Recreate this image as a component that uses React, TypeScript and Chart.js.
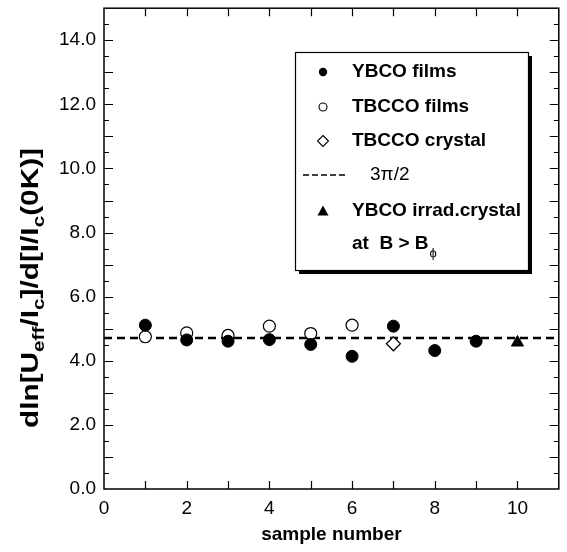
import React, { useEffect, useRef } from 'react';
import { Chart, registerables } from 'chart.js';

Chart.register(...registerables);

// Sample values of the pinning-energy slope per material family
const ybcoFilmSamples = [1, 2, 3, 4, 5, 6, 7, 8, 9];
const ybcoFilmValues = [5.11, 4.65, 4.61, 4.66, 4.51, 4.14, 5.08, 4.32, 4.61];
const tbccoFilmSamples = [1, 2, 3, 4, 5, 6];
const tbccoFilmValues = [4.75, 4.87, 4.79, 5.08, 4.85, 5.11];
const tbccoCrystalSamples = [7];
const tbccoCrystalValues = [4.53];
const ybcoIrradSamples = [10];
const ybcoIrradValues = [4.57];

// Theoretical level 3π/2 drawn across the full sample range
const referenceLevel = (3 * Math.PI) / 2;
const referenceSpan = [0, 11];

const xTickValues = [0, 2, 4, 6, 8, 10];
const yTickValues = [0, 2, 4, 6, 8, 10, 12, 14];

const FONT = '"Liberation Sans", Arial, Helvetica, sans-serif';

const toPoints = (xs: number[], ys: number[]) => xs.map((x, i) => ({ x, y: ys[i] }));

// Closed frame with inward-pointing ticks on all four sides
const framePlugin = {
  id: 'frameTicks',
  beforeDatasetsDraw(chart: any) {
    const { ctx, chartArea: a, scales } = chart;
    const x = scales.x;
    const y = scales.y;
    ctx.save();
    ctx.strokeStyle = '#000';
    ctx.lineWidth = 1.5;
    ctx.strokeRect(a.left, a.top, a.right - a.left, a.bottom - a.top);
    ctx.lineWidth = 1.2;
    ctx.beginPath();
    for (let v = 1; v <= 10; v++) {
      const px = Math.round(x.getPixelForValue(v)) + 0.5;
      ctx.moveTo(px, a.bottom);
      ctx.lineTo(px, a.bottom - 8);
      ctx.moveTo(px, a.top);
      ctx.lineTo(px, a.top + 8);
    }
    for (let k = 1; k < 30; k++) {
      const v = k * 0.5;
      const py = Math.round(y.getPixelForValue(v)) + 0.5;
      const len = k % 2 === 0 ? 9 : 5;
      ctx.moveTo(a.left, py);
      ctx.lineTo(a.left + len, py);
      ctx.moveTo(a.right, py);
      ctx.lineTo(a.right - len, py);
    }
    ctx.stroke();
    ctx.restore();
  },
};

// Rotated y-axis title with subscripts
const yTitlePlugin = {
  id: 'yTitle',
  afterDraw(chart: any) {
    const { ctx } = chart;
    const parts: { t: string; sub?: boolean }[] = [
      { t: 'dln[U' },
      { t: 'eff', sub: true },
      { t: '/I' },
      { t: 'c', sub: true },
      { t: ']/d[I/I' },
      { t: 'c', sub: true },
      { t: '(0K)]' },
    ];
    const mainFont = `bold 23px ${FONT}`;
    const subFont = `bold 16px ${FONT}`;
    const targetLength = 280;
    ctx.save();
    let total = 0;
    const widths = parts.map((p) => {
      ctx.font = p.sub ? subFont : mainFont;
      const w = ctx.measureText(p.t).width;
      total += w;
      return w;
    });
    ctx.translate(20, 288);
    ctx.rotate(-Math.PI / 2);
    ctx.scale(targetLength / total, 1);
    ctx.fillStyle = '#000';
    ctx.textBaseline = 'alphabetic';
    let cx = -total / 2;
    parts.forEach((p, i) => {
      ctx.font = p.sub ? subFont : mainFont;
      ctx.fillText(p.t, cx, p.sub ? 24 : 18);
      cx += widths[i];
    });
    ctx.restore();
  },
};

// Boxed legend with drop shadow
const legendPlugin = {
  id: 'boxLegend',
  afterDraw(chart: any) {
    const { ctx } = chart;
    const left = 295;
    const top = 52;
    const w = 233;
    const h = 218;
    ctx.save();
    ctx.fillStyle = '#000';
    ctx.fillRect(left + 4, top + 4, w, h);
    ctx.fillStyle = '#fff';
    ctx.fillRect(left, top, w, h);
    ctx.strokeStyle = '#000';
    ctx.lineWidth = 1.2;
    ctx.strokeRect(left + 0.5, top + 0.5, w, h);

    const mx = 323;
    const tx = 352;
    ctx.font = `bold 19px ${FONT}`;
    ctx.textBaseline = 'middle';
    ctx.fillStyle = '#000';

    // filled circle
    ctx.beginPath();
    ctx.arc(mx, 72, 4.2, 0, Math.PI * 2);
    ctx.fill();
    ctx.fillText('YBCO films', tx, 72);

    // open circle
    ctx.beginPath();
    ctx.arc(mx, 107, 4, 0, Math.PI * 2);
    ctx.lineWidth = 1.1;
    ctx.stroke();
    ctx.fillText('TBCCO films', tx, 107);

    // open diamond
    ctx.beginPath();
    ctx.moveTo(mx, 141 - 5.5);
    ctx.lineTo(mx + 5.5, 141);
    ctx.lineTo(mx, 141 + 5.5);
    ctx.lineTo(mx - 5.5, 141);
    ctx.closePath();
    ctx.stroke();
    ctx.fillText('TBCCO crystal', tx, 141);

    // dashed reference line
    ctx.beginPath();
    ctx.setLineDash([6, 3]);
    ctx.lineWidth = 1.5;
    ctx.moveTo(303, 175);
    ctx.lineTo(347, 175);
    ctx.stroke();
    ctx.setLineDash([]);
    ctx.font = `19px ${FONT}`;
    ctx.fillText('3π/2', 370, 175);

    // filled triangle
    ctx.beginPath();
    ctx.moveTo(mx, 211 - 5.5);
    ctx.lineTo(mx + 5.5, 211 + 4.5);
    ctx.lineTo(mx - 5.5, 211 + 4.5);
    ctx.closePath();
    ctx.fill();
    ctx.font = `bold 19px ${FONT}`;
    ctx.fillText('YBCO irrad.crystal', tx, 211);
    const prefix = 'at  B > B';
    ctx.fillText(prefix, tx, 244);
    const pw = ctx.measureText(prefix).width;
    ctx.font = `13px ${FONT}`;
    ctx.fillText('ϕ', tx + pw + 1, 253);
    ctx.restore();
  },
};

export default function App() {
  const canvasRef = useRef<HTMLCanvasElement | null>(null);

  useEffect(() => {
    const canvas = canvasRef.current;
    if (!canvas) return;
    const tickFont = { family: FONT, size: 19 };
    const chart = new Chart(canvas, {
      type: 'scatter',
      data: {
        datasets: [
          {
            label: '3π/2',
            data: referenceSpan.map((x) => ({ x, y: referenceLevel })),
            showLine: true,
            borderColor: '#000',
            borderWidth: 2.6,
            borderDash: [8, 5],
            pointRadius: 0,
            order: 5,
          },
          {
            label: 'TBCCO films',
            data: toPoints(tbccoFilmSamples, tbccoFilmValues),
            pointStyle: 'circle',
            pointRadius: 6,
            pointBorderWidth: 1.2,
            pointBackgroundColor: '#fff',
            pointBorderColor: '#000',
            order: 4,
          },
          {
            label: 'TBCCO crystal',
            data: toPoints(tbccoCrystalSamples, tbccoCrystalValues),
            pointStyle: 'rectRot',
            pointRadius: 7,
            pointBorderWidth: 1.2,
            pointBackgroundColor: '#fff',
            pointBorderColor: '#000',
            order: 3,
          },
          {
            label: 'YBCO irrad.crystal',
            data: toPoints(ybcoIrradSamples, ybcoIrradValues),
            pointStyle: 'triangle',
            pointRadius: 7,
            pointBorderWidth: 1,
            pointBackgroundColor: '#000',
            pointBorderColor: '#000',
            order: 2,
          },
          {
            label: 'YBCO films',
            data: toPoints(ybcoFilmSamples, ybcoFilmValues),
            pointStyle: 'circle',
            pointRadius: 6,
            pointBorderWidth: 1,
            pointBackgroundColor: '#000',
            pointBorderColor: '#000',
            order: 1,
          },
        ],
      },
      options: {
        responsive: false,
        animation: false,
        layout: { padding: { left: 0, right: 7, top: 7, bottom: 0 } },
        plugins: {
          legend: { display: false },
          tooltip: { enabled: false },
        },
        scales: {
          x: {
            type: 'linear',
            position: 'bottom',
            min: 0,
            max: 11,
            grid: { display: false, drawTicks: false },
            border: { display: false },
            ticks: {
              color: '#000',
              font: tickFont,
              padding: 8,
              maxRotation: 0,
              autoSkip: false,
              callback: (v: any) => String(v),
            },
            afterBuildTicks: (s: any) => {
              s.ticks = xTickValues.map((value) => ({ value }));
            },
            afterFit: (s: any) => {
              s.height = 63;
              s.paddingLeft = 0;
              s.paddingRight = 0;
            },
            title: {
              display: true,
              text: 'sample number',
              color: '#000',
              font: { family: FONT, size: 19, weight: 'bold' },
              padding: { top: 0, bottom: 6 },
            },
          },
          y: {
            type: 'linear',
            min: 0,
            max: 15,
            grid: { display: false, drawTicks: false },
            border: { display: false },
            ticks: {
              color: '#000',
              font: tickFont,
              padding: 8,
              autoSkip: false,
              callback: (v: any) => Number(v).toFixed(1),
            },
            afterBuildTicks: (s: any) => {
              s.ticks = yTickValues.map((value) => ({ value }));
            },
            afterFit: (s: any) => {
              s.width = 104;
              s.paddingTop = 0;
              s.paddingBottom = 0;
            },
          },
        },
      },
      plugins: [framePlugin, yTitlePlugin, legendPlugin],
    } as any);
    return () => chart.destroy();
  }, []);

  return (
    <div style={{ position: 'fixed', left: 0, top: 0, width: 567, height: 552, background: '#fff' }}>
      <canvas ref={canvasRef} width={567} height={552} />
    </div>
  );
}
